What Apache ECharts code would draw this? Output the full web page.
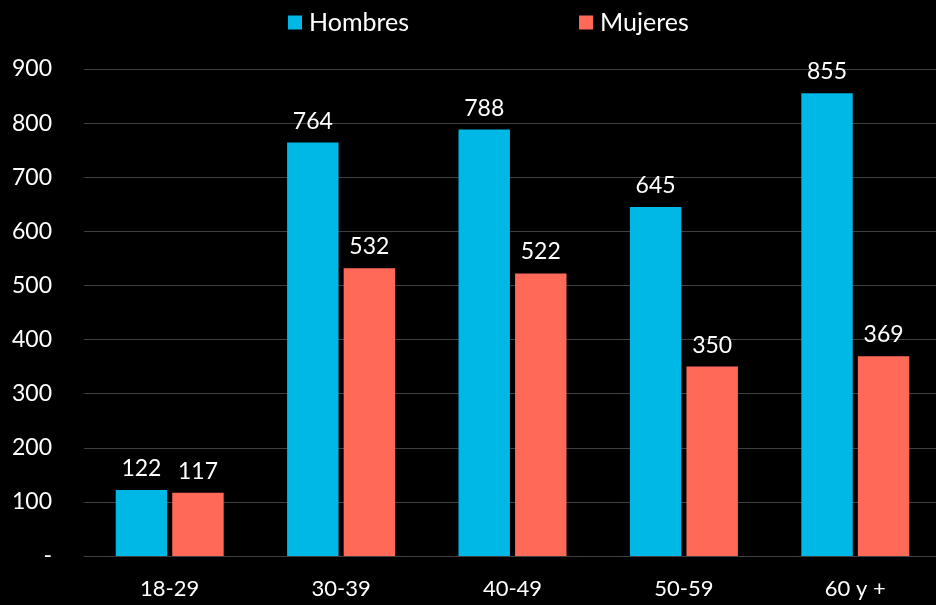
<!DOCTYPE html>
<html>
<head>
<meta charset="utf-8">
<script src="https://cdn.jsdelivr.net/npm/echarts@6/dist/echarts.min.js"></script>
<style>
  html, body { margin: 0; padding: 0; background: #000000; }
  #chart { width: 936px; height: 605px; }
</style>
</head>
<body>
<div id="chart"></div>
<script>
// categories and values
const categories = ['18-29', '30-39', '40-49', '50-59', '60 y +'];
const hombres = [122, 764, 788, 645, 855];
const mujeres = [117, 532, 522, 350, 369];
const seriesNames = ['Hombres', 'Mujeres'];

const fontFamily = 'Lato, "Open Sans", sans-serif';

const chart = echarts.init(document.getElementById('chart'));

const labelStyle = {
  show: true,
  position: 'top',
  distance: 10,
  color: '#ffffff',
  fontSize: 23,
  fontFamily: fontFamily
};

chart.setOption({
  backgroundColor: '#000000',
  animation: false,
  legend: {
    top: 5,
    left: 283,
    itemWidth: 14,
    itemHeight: 14,
    itemGap: 170,
    icon: 'rect',
    textStyle: { color: '#ffffff', fontSize: 25, fontFamily: fontFamily, padding: [0, 0, 0, 2] },
    data: seriesNames
  },
  // plot area runs a little past the right edge of the canvas
  grid: { left: 84, width: 857, top: 69, bottom: 49, containLabel: false, outerBoundsMode: 'none' },
  xAxis: {
    type: 'category',
    data: categories,
    axisLine: { lineStyle: { color: '#404040', width: 1 } },
    axisTick: { show: false },
    axisLabel: { color: '#ffffff', fontSize: 22, fontFamily: fontFamily, margin: 22 }
  },
  yAxis: {
    type: 'value',
    min: 0,
    max: 900,
    interval: 100,
    axisLine: { show: false },
    axisTick: { show: false },
    splitLine: { lineStyle: { color: '#404040', width: 1 } },
    axisLabel: {
      color: '#ffffff',
      fontSize: 23,
      fontFamily: fontFamily,
      margin: 32,
      formatter: v => (v === 0 ? '-' : String(v))
    }
  },
  series: [
    {
      name: seriesNames[0],
      type: 'bar',
      data: hombres,
      barGap: '10%',
      barCategoryGap: '37%',
      itemStyle: { color: '#00B8E6' },
      label: labelStyle
    },
    {
      name: seriesNames[1],
      type: 'bar',
      data: mujeres,
      itemStyle: { color: '#FF6A58' },
      label: labelStyle
    }
  ]
});
</script>
</body>
</html>
